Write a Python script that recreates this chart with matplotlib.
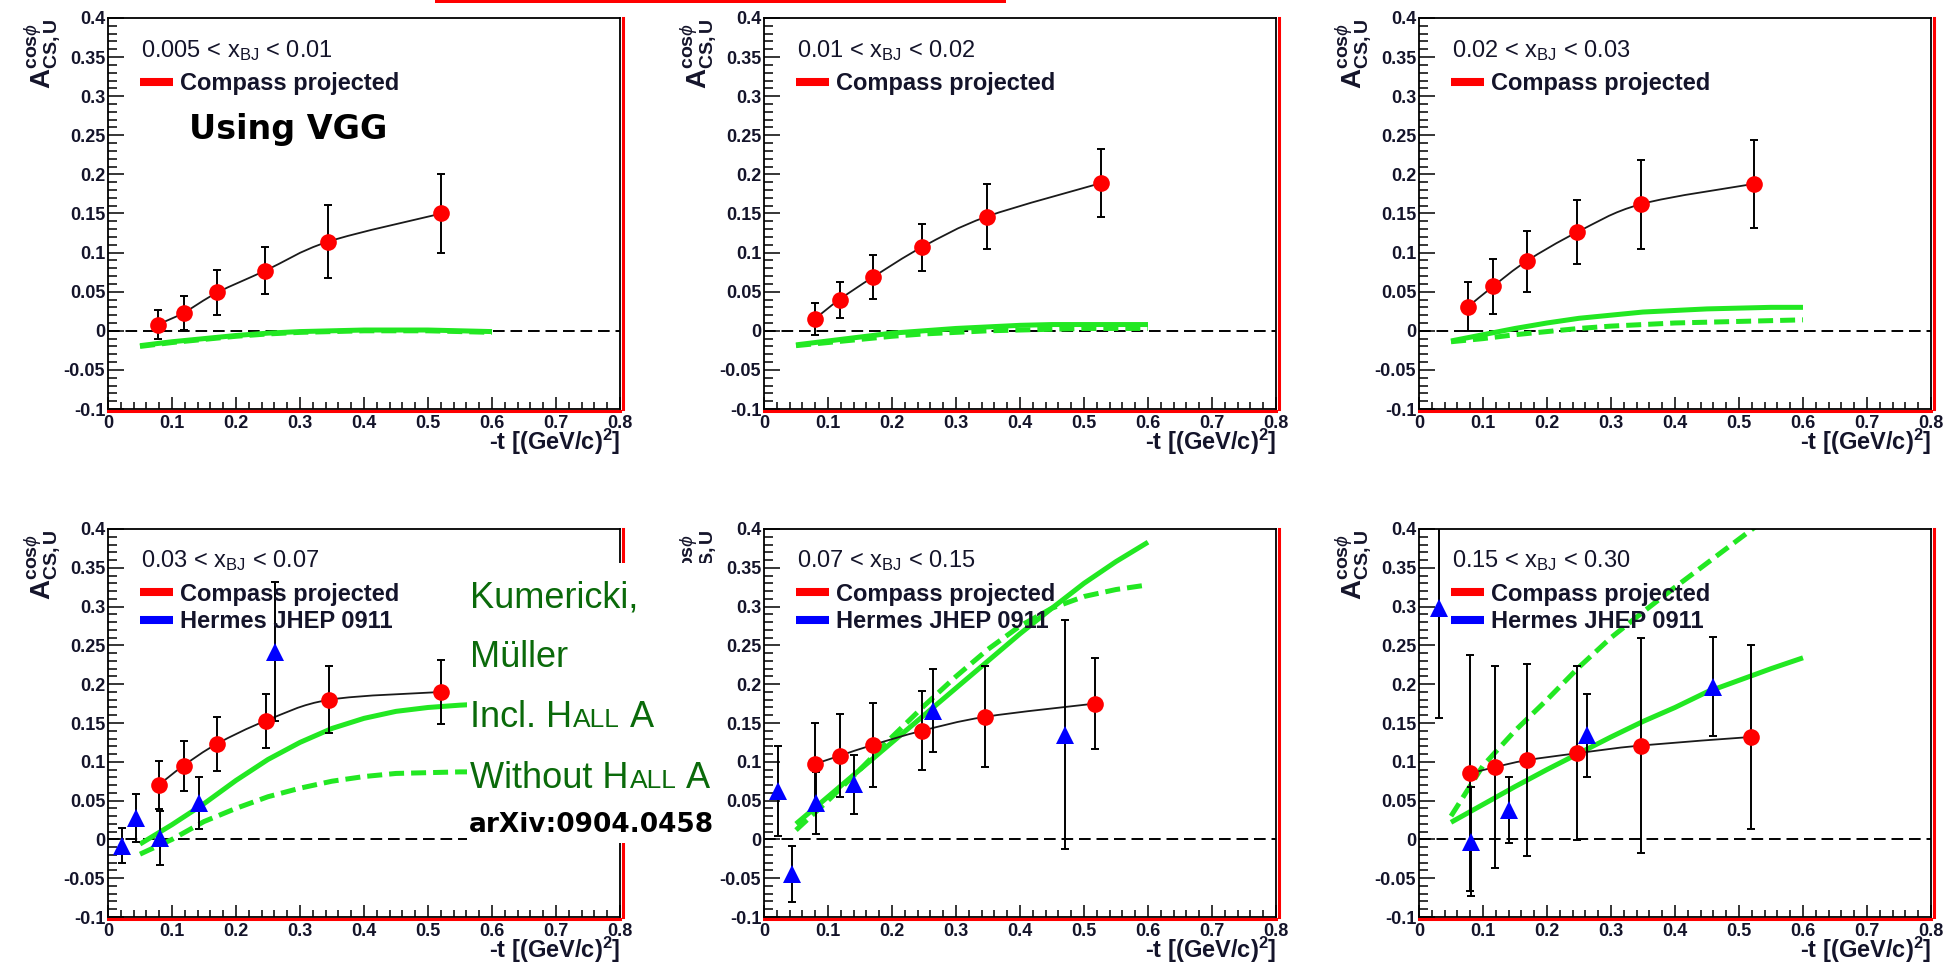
import numpy as np
import matplotlib
matplotlib.use("Agg")
import matplotlib.pyplot as plt
from matplotlib.path import Path
from matplotlib.patches import PathPatch, Rectangle
from matplotlib.lines import Line2D
from matplotlib.ticker import MultipleLocator, FuncFormatter
from matplotlib.transforms import ScaledTranslation

plt.rcParams["font.family"] = ["Liberation Sans", "DejaVu Sans"]
plt.rcParams["mathtext.fontset"] = "custom"
plt.rcParams["mathtext.rm"] = "Liberation Sans"
plt.rcParams["mathtext.it"] = "Liberation Sans:italic"
plt.rcParams["mathtext.bf"] = "Liberation Sans:bold"

# ---------------------------------------------------------------- data
bin_labels = [
    r"0.005 < $\mathrm{x}_{\mathrm{BJ}}$ < 0.01",
    r"0.01 < $\mathrm{x}_{\mathrm{BJ}}$ < 0.02",
    r"0.02 < $\mathrm{x}_{\mathrm{BJ}}$ < 0.03",
    r"0.03 < $\mathrm{x}_{\mathrm{BJ}}$ < 0.07",
    r"0.07 < $\mathrm{x}_{\mathrm{BJ}}$ < 0.15",
    r"0.15 < $\mathrm{x}_{\mathrm{BJ}}$ < 0.30",
]

# COMPASS projected asymmetries: -t, A, stat. error
compass_t = [
    [0.078, 0.118, 0.171, 0.246, 0.344, 0.521],
    [0.079, 0.118, 0.171, 0.247, 0.348, 0.527],
    [0.077, 0.116, 0.168, 0.247, 0.347, 0.524],
    [0.079, 0.118, 0.170, 0.247, 0.346, 0.521],
    [0.079, 0.119, 0.171, 0.247, 0.346, 0.517],
    [0.080, 0.118, 0.168, 0.247, 0.347, 0.519],
]
compass_a = [
    [0.008, 0.023, 0.049, 0.077, 0.114, 0.150],
    [0.015, 0.040, 0.069, 0.107, 0.146, 0.189],
    [0.031, 0.057, 0.089, 0.126, 0.162, 0.188],
    [0.070, 0.095, 0.123, 0.153, 0.180, 0.190],
    [0.097, 0.108, 0.122, 0.140, 0.158, 0.175],
    [0.085, 0.093, 0.102, 0.111, 0.121, 0.132],
]
compass_err = [
    [0.019, 0.022, 0.029, 0.030, 0.047, 0.050],
    [0.021, 0.023, 0.028, 0.030, 0.042, 0.044],
    [0.031, 0.035, 0.039, 0.041, 0.057, 0.056],
    [0.031, 0.032, 0.035, 0.035, 0.043, 0.041],
    [0.053, 0.054, 0.054, 0.051, 0.065, 0.059],
    [0.152, 0.130, 0.124, 0.112, 0.138, 0.118],
]

# HERMES JHEP 0911 (only in the three high-x bins)
hermes_t = [None, None, None,
            [0.022, 0.043, 0.081, 0.142, 0.261],
            [0.022, 0.043, 0.082, 0.140, 0.264, 0.471],
            [0.032, 0.082, 0.141, 0.262, 0.460]]
hermes_a = [None, None, None,
            [-0.008, 0.028, 0.002, 0.047, 0.242],
            [0.062, -0.045, 0.047, 0.071, 0.166, 0.135],
            [0.298, -0.003, 0.038, 0.134, 0.197]]
hermes_err = [None, None, None,
              [0.023, 0.031, 0.035, 0.034, 0.090],
              [0.058, 0.036, 0.040, 0.038, 0.054, 0.148],
              [0.141, 0.070, 0.043, 0.054, 0.064]]

# Kumericki-Mueller model curves
model_t = [0.05, 0.10, 0.15, 0.20, 0.25, 0.30, 0.35, 0.40, 0.45, 0.50, 0.55, 0.60]
model_incl_halla = [
    [-0.019, -0.014, -0.010, -0.006, -0.003, -0.001, 0.000, 0.001, 0.001, 0.001, 0.000, -0.001],
    [-0.018, -0.013, -0.008, -0.003, 0.000, 0.003, 0.005, 0.007, 0.008, 0.008, 0.008, 0.008],
    [-0.013, -0.005, 0.003, 0.010, 0.016, 0.020, 0.024, 0.026, 0.028, 0.029, 0.030, 0.030],
    [-0.006, 0.019, 0.046, 0.076, 0.103, 0.125, 0.143, 0.156, 0.165, 0.170, 0.173, 0.175],
    [0.020, 0.055, 0.090, 0.125, 0.160, 0.195, 0.230, 0.265, 0.298, 0.330, 0.358, 0.383],
    [0.022, 0.045, 0.068, 0.090, 0.111, 0.132, 0.152, 0.170, 0.190, 0.205, 0.220, 0.234],
]
model_without_halla = [
    [-0.020, -0.015, -0.011, -0.007, -0.004, -0.002, -0.001, 0.000, 0.000, 0.000, -0.001, -0.002],
    [-0.019, -0.015, -0.011, -0.007, -0.004, -0.002, 0.000, 0.001, 0.002, 0.003, 0.003, 0.003],
    [-0.014, -0.010, -0.005, -0.001, 0.003, 0.006, 0.008, 0.010, 0.011, 0.012, 0.013, 0.014],
    [-0.019, 0.000, 0.023, 0.040, 0.055, 0.066, 0.075, 0.081, 0.085, 0.086, 0.087, 0.087],
    [0.012, 0.050, 0.090, 0.132, 0.172, 0.210, 0.245, 0.275, 0.298, 0.313, 0.322, 0.328],
    [0.030, 0.095, 0.140, 0.180, 0.222, 0.260, 0.293, 0.325, 0.356, 0.387, 0.418, 0.449],
]

# ---------------------------------------------------------------- style
RED = "#ff0000"
BLUE = "#0000ff"
GREEN = "#22e822"
INK = "#14142a"
ANNOT_GREEN = "#0a6a0a"

W, H = 1946, 964
fig = plt.figure(figsize=(W / 100, H / 100), dpi=100)
fig.patch.set_facecolor("white")

col_left = [108, 764, 1419]
col_width = 512
row_span = [(18, 409), (529, 917)]


def add_axes_px(x0, y0, x1, y1):
    return fig.add_axes([x0 / W, 1 - y1 / H, (x1 - x0) / W, (y1 - y0) / H])


def smooth_path(xs, ys):
    """Catmull-Rom curve through the points, expressed as cubic Beziers."""
    pts = np.column_stack([xs, ys]).astype(float)
    ext = np.vstack([pts[0], pts, pts[-1]])
    verts = [tuple(pts[0])]
    codes = [Path.MOVETO]
    for i in range(1, len(ext) - 2):
        p0, p1, p2, p3 = ext[i - 1], ext[i], ext[i + 1], ext[i + 2]
        c1 = p1 + (p2 - p0) / 6.0
        c2 = p2 - (p3 - p1) / 6.0
        verts += [tuple(c1), tuple(c2), tuple(p2)]
        codes += [Path.CURVE4] * 3
    return Path(verts, codes)


def fmt(v, _pos):
    v = round(v, 3)
    if abs(v) < 1e-9:
        return "0"
    return f"{v:g}"


red_offset_x = ScaledTranslation(2.5 / 100, 0, fig.dpi_scale_trans)
red_offset_y = ScaledTranslation(0, -2.0 / 100, fig.dpi_scale_trans)

for i in range(6):
    r, c = divmod(i, 3)
    y0, y1 = row_span[r]
    ax = add_axes_px(col_left[c], y0, col_left[c] + col_width, y1)
    ax.set_xlim(0, 0.8)
    ax.set_ylim(-0.1, 0.4)

    # zero line
    ax.axhline(0, color="black", lw=1.4, ls=(0, (6, 3)), zorder=1)

    # model curves
    ax.plot(model_t, model_without_halla[i], color=GREEN, lw=3.6,
            ls=(0, (3.0, 1.4)), zorder=2)
    ax.plot(model_t, model_incl_halla[i], color=GREEN, lw=3.6,
            solid_capstyle="butt", zorder=2)

    # smooth curve through the COMPASS points
    ax.add_patch(PathPatch(smooth_path(compass_t[i], compass_a[i]),
                           facecolor="none", edgecolor="#1a1a1a", lw=1.3,
                           zorder=3))

    ax.errorbar(compass_t[i], compass_a[i], yerr=compass_err[i], fmt="none",
                ecolor="black", elinewidth=1.4, capsize=3.2, capthick=1.4,
                zorder=4)
    ax.plot(compass_t[i], compass_a[i], "o", color=RED, ms=12, mew=0,
            zorder=5)

    handles = [Line2D([], [], color=RED, lw=5.8, solid_capstyle="butt")]
    labels = ["Compass projected"]
    if hermes_t[i] is not None:
        ax.errorbar(hermes_t[i], hermes_a[i], yerr=hermes_err[i], fmt="none",
                    ecolor="black", elinewidth=1.4, capsize=3.2,
                    capthick=1.4, zorder=4)
        ax.plot(hermes_t[i], hermes_a[i], "^", color=BLUE, ms=13, mew=0,
                zorder=5)
        handles.append(Line2D([], [], color=BLUE, lw=5.8,
                              solid_capstyle="butt"))
        labels.append("Hermes JHEP 0911")

    leg = ax.legend(handles, labels, loc="upper left",
                    bbox_to_anchor=(0.062, 0.862), frameon=False,
                    handlelength=1.4, handletextpad=0.3, labelspacing=0.2,
                    borderpad=0, borderaxespad=0,
                    prop=dict(family="Liberation Sans", weight="bold",
                              size=17))
    for t in leg.get_texts():
        t.set_color(INK)
    leg.set_zorder(6)

    ax.text(0.064, 0.918, bin_labels[i], transform=ax.transAxes,
            fontsize=17, color=INK, ha="left", va="center", zorder=6)

    # axes labels (ROOT style: y at top-left, x at bottom-right)
    ax.text(-0.128, 1.0,
            r"$\mathbf{A}^{\mathbf{cos}\phi}_{\mathbf{CS,U}}$",
            transform=ax.transAxes, rotation=90, ha="center", va="top",
            fontsize=20, color=INK)
    ax.text(1.0, -0.105, r"-t [(GeV/c)$^{\mathbf{2}}$]",
            transform=ax.transAxes, ha="right", va="baseline",
            fontsize=17, fontweight="bold", color=INK)

    # ticks
    ax.xaxis.set_major_locator(MultipleLocator(0.1))
    ax.xaxis.set_minor_locator(MultipleLocator(0.02))
    ax.yaxis.set_major_locator(MultipleLocator(0.05))
    ax.yaxis.set_minor_locator(MultipleLocator(0.01))
    ax.xaxis.set_major_formatter(FuncFormatter(fmt))
    ax.yaxis.set_major_formatter(FuncFormatter(fmt))
    ax.tick_params(axis="both", which="both", direction="in", top=False,
                   right=False, width=1.1, colors="black")
    ax.tick_params(axis="y", which="major", length=11.5, pad=2)
    ax.tick_params(axis="y", which="minor", length=6.5)
    ax.tick_params(axis="x", which="major", length=8.6, pad=4)
    ax.tick_params(axis="x", which="minor", length=5.0)
    for lab in ax.get_xticklabels() + ax.get_yticklabels():
        lab.set_fontsize(13)
        lab.set_fontweight("bold")
        lab.set_color(INK)
    for sp in ax.spines.values():
        sp.set_linewidth(1.3)
        sp.set_color("black")

    # red frame shadow on the right and bottom edges
    ax.add_line(Line2D([1, 1], [0, 1], transform=ax.transAxes + red_offset_x,
                       color=RED, lw=2.2, clip_on=False, zorder=7))
    ax.add_line(Line2D([0, 1], [0, 0], transform=ax.transAxes + red_offset_y,
                       color=RED, lw=2.2, clip_on=False, zorder=7))

# ---------------------------------------------------------------- overlays
def fx(px):
    return px / W


def fy(px):
    return 1 - px / H


# red bar along the top edge
fig.add_artist(Rectangle((fx(435), fy(3)), (1006 - 435) / W, 3 / H,
                         transform=fig.transFigure, facecolor=RED,
                         edgecolor="none", zorder=8))

fig.text(fx(189), fy(139), "Using VGG", fontsize=24, fontweight="bold",
         family="DejaVu Sans", color="black", va="baseline", ha="left",
         zorder=9)

# white label box with the model description
fig.add_artist(Rectangle((fx(467), fy(843)), (718 - 467) / W, (843 - 563) / H,
                         transform=fig.transFigure, facecolor="white",
                         edgecolor="none", zorder=8))

renderer = fig.canvas.get_renderer()


def text_run(x_px, base_px, pieces, **kw):
    x = x_px
    for s, size, gap in pieces:
        x += gap
        t = fig.text(fx(x), fy(base_px), s, fontsize=size, va="baseline",
                     ha="left", zorder=9, **kw)
        x = t.get_window_extent(renderer).x1 + 1


green_kw = dict(color=ANNOT_GREEN, family="Liberation Sans")
text_run(470, 608, [("Kumericki,", 26, 0)], **green_kw)
text_run(470, 667, [("Müller", 26, 0)], **green_kw)
text_run(470, 727, [("Incl. H", 26, 0), ("ALL", 19, 0), ("A", 26, 9)],
         **green_kw)
text_run(470, 788, [("Without H", 26, 0), ("ALL", 19, 0), ("A", 26, 9)],
         **green_kw)
fig.text(fx(469), fy(832), "arXiv:0904.0458", fontsize=19, fontweight="bold",
         family="DejaVu Sans", color="black", va="baseline", ha="left",
         zorder=9)

fig.savefig("out.png", dpi=100, facecolor="white")
